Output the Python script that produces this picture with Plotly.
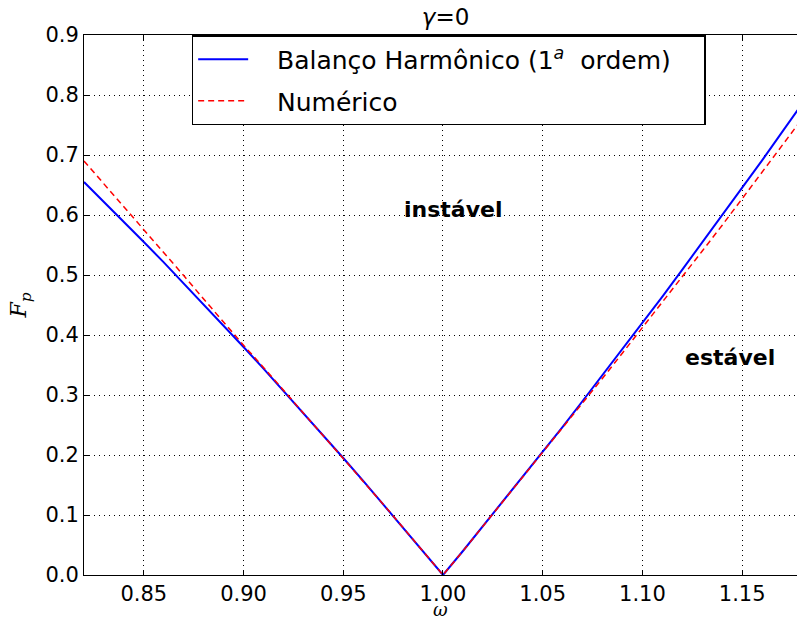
import plotly.graph_objects as go

omega = [0.82, 0.83, 0.84, 0.85, 0.86, 0.87, 0.88, 0.89, 0.90, 0.91, 0.92, 0.93, 0.94, 0.95,
         0.96, 0.97, 0.98, 0.99, 1.00, 1.01, 1.02, 1.03, 1.04, 1.05, 1.06, 1.07, 1.08, 1.09,
         1.10, 1.11, 1.12, 1.13, 1.14, 1.15, 1.16, 1.17, 1.18]
fp_hb = [0.655, 0.622, 0.589, 0.555, 0.521, 0.486, 0.451, 0.416, 0.380, 0.344, 0.307, 0.270,
         0.233, 0.195, 0.157, 0.118, 0.079, 0.040, 0.000, 0.040, 0.081, 0.122, 0.163, 0.205,
         0.247, 0.290, 0.333, 0.376, 0.420, 0.464, 0.509, 0.554, 0.599, 0.645, 0.691, 0.738, 0.785]
fp_num = [0.690, 0.652, 0.614, 0.575, 0.537, 0.499, 0.460, 0.421, 0.383, 0.346, 0.308, 0.270,
          0.233, 0.195, 0.157, 0.118, 0.079, 0.040, 0.000, 0.040, 0.081, 0.121, 0.162, 0.203,
          0.244, 0.286, 0.328, 0.370, 0.412, 0.454, 0.497, 0.540, 0.583, 0.627, 0.671, 0.715, 0.760]

xticks = [0.85, 0.90, 0.95, 1.00, 1.05, 1.10, 1.15]
yticks = [0.0, 0.1, 0.2, 0.3, 0.4, 0.5, 0.6, 0.7, 0.8, 0.9]

labels = [("instável", 1.005, 0.61), ("estável", 1.144, 0.362)]

FONT = "DejaVu Sans"
PAD = "&nbsp;&nbsp;&nbsp;"
TAIL = '<span style="color:rgba(255,255,255,0)">iiii</span>'

fig = go.Figure()
fig.add_trace(go.Scatter(x=omega, y=fp_hb, mode="lines",
                         name=PAD + "Balanço Harmônico (1<sup><i>a</i></sup>  ordem)" + TAIL,
                         line=dict(color="#0000ff", width=2), legendgroup="a"))
fig.add_trace(go.Scatter(x=omega, y=fp_num, mode="lines", name=PAD + "Numérico",
                         line=dict(color="#ff0000", width=1.5, dash="6px,4px"), legendgroup="b"))

for txt, xx, yy in labels:
    fig.add_annotation(x=xx, y=yy, text="<b>" + txt + "</b>", showarrow=False,
                       font=dict(family=FONT, size=22, color="black"))

fig.add_annotation(x=0.5 * (0.82 + 1.1775), xref="x", y=-0.063, yref="paper",
                   text="<i>ω</i>", showarrow=False, yanchor="middle",
                   font=dict(family="DejaVu Serif", size=18, color="black"))

axis_common = dict(showline=True, linecolor="black", linewidth=1, ticks="inside",
                   ticklen=5, tickcolor="black", showgrid=True, gridcolor="black",
                   gridwidth=1, griddash="1px,4px", zeroline=False,
                   tickfont=dict(family=FONT, size=21, color="black"))

fig.update_xaxes(range=[0.82, 1.1775], tickvals=xticks,
                 ticktext=[f"{v:.2f}" for v in xticks], mirror="ticks",
                 **axis_common)
fig.update_yaxes(range=[0, 0.9], tickvals=yticks,
                 ticktext=[f"{v:.1f}" for v in yticks], mirror=False,
                 title=dict(text="<i>F<sub>p</sub></i>", font=dict(family="DejaVu Serif", size=22, color="black"),
                            standoff=12),
                 **axis_common)

fig.update_layout(
    width=797, height=619,
    margin=dict(l=84, r=0, t=35, b=44),
    plot_bgcolor="white", paper_bgcolor="white",
    font=dict(family=FONT, color="black"),
    title=dict(text="<i>γ</i>=0", x=0.559, xanchor="center", y=0.972, yanchor="middle",
               font=dict(family=FONT, size=23, color="black")),
    showlegend=True,
    legend=dict(x=0.151, xanchor="left", y=1, yanchor="top",
                bordercolor="black", borderwidth=1.5, bgcolor="white",
                font=dict(family=FONT, size=25, color="black"),
                itemwidth=50, tracegroupgap=6, traceorder="grouped"),
)

fig.write_html("out.html")
